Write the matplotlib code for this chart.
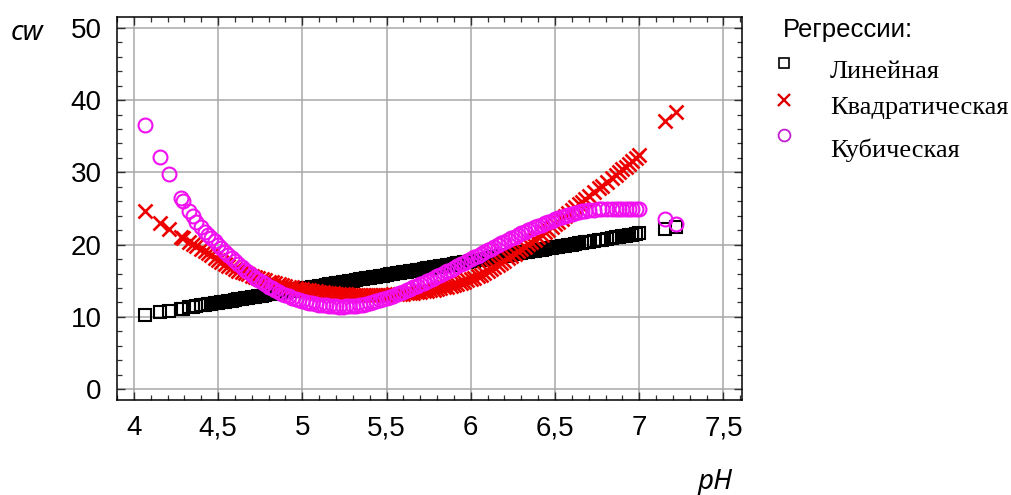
import matplotlib
matplotlib.use('Agg')
import matplotlib.pyplot as plt
from matplotlib.ticker import MultipleLocator, FixedLocator, FixedFormatter
import numpy as np

# pH values (head, dense middle, tail)
ph_head = [4.065, 4.155, 4.21, 4.28, 4.29, 4.33, 4.35, 4.37]
ph_mid = [round(4.40 + 0.02 * k, 2) for k in range(116)]
ph_tail = [6.73, 6.76, 6.78, 6.81, 6.84, 6.86, 6.88, 6.90, 6.92, 6.94, 6.96, 6.98, 7.00, 7.155, 7.22]

lin_head = [10.30, 10.65, 10.86, 11.12, 11.16, 11.32, 11.39, 11.47]
lin_mid = [
    11.58, 11.66, 11.73, 11.81, 11.89, 11.96, 12.04, 12.12, 12.19, 12.27,
    12.35, 12.42, 12.50, 12.58, 12.65, 12.73, 12.81, 12.88, 12.96, 13.04,
    13.11, 13.19, 13.27, 13.34, 13.42, 13.50, 13.57, 13.65, 13.73, 13.80,
    13.88, 13.96, 14.03, 14.11, 14.19, 14.26, 14.34, 14.42, 14.49, 14.57,
    14.65, 14.72, 14.80, 14.88, 14.95, 15.03, 15.11, 15.18, 15.26, 15.34,
    15.41, 15.49, 15.57, 15.64, 15.72, 15.80, 15.87, 15.95, 16.03, 16.10,
    16.18, 16.26, 16.33, 16.41, 16.49, 16.56, 16.64, 16.72, 16.79, 16.87,
    16.95, 17.02, 17.10, 17.18, 17.25, 17.33, 17.41, 17.48, 17.56, 17.64,
    17.71, 17.79, 17.87, 17.94, 18.02, 18.10, 18.17, 18.25, 18.33, 18.40,
    18.48, 18.56, 18.63, 18.71, 18.79, 18.86, 18.94, 19.02, 19.09, 19.17,
    19.25, 19.32, 19.40, 19.48, 19.55, 19.63, 19.71, 19.78, 19.86, 19.94,
    20.01, 20.09, 20.17, 20.24, 20.32, 20.40]
lin_tail = [20.51, 20.63, 20.71, 20.83, 20.94, 21.02, 21.10, 21.17, 21.25, 21.33, 21.40, 21.48, 21.56, 22.15, 22.40]

quad_head = [24.6, 23.0, 22.2, 21.1, 20.95, 20.4, 20.1, 19.8]
quad_mid = [
    19.40, 19.10, 18.80, 18.50, 18.15, 17.85, 17.58, 17.33, 17.09, 16.84,
    16.60, 16.41, 16.23, 16.05, 15.87, 15.69, 15.52, 15.37, 15.21, 15.06,
    14.90, 14.78, 14.66, 14.54, 14.42, 14.30, 14.20, 14.10, 14.00, 13.90,
    13.80, 13.73, 13.66, 13.59, 13.52, 13.45, 13.40, 13.35, 13.30, 13.25,
    13.20, 13.17, 13.14, 13.11, 13.08, 13.05, 13.04, 13.03, 13.02, 13.01,
    13.00, 13.01, 13.02, 13.03, 13.04, 13.05, 13.08, 13.11, 13.14, 13.17,
    13.20, 13.25, 13.30, 13.35, 13.40, 13.45, 13.53, 13.61, 13.69, 13.77,
    13.85, 13.96, 14.07, 14.18, 14.29, 14.40, 14.56, 14.72, 14.88, 15.04,
    15.20, 15.42, 15.64, 15.86, 16.08, 16.30, 16.60, 16.90, 17.20, 17.50,
    17.80, 18.12, 18.44, 18.76, 19.08, 19.40, 19.72, 20.04, 20.36, 20.68,
    21.00, 21.36, 21.72, 22.08, 22.44, 22.80, 23.20, 23.60, 24.00, 24.40,
    24.80, 25.18, 25.56, 25.94, 26.32, 26.70]
quad_tail = [27.25, 27.80, 28.15, 28.70, 29.25, 29.65, 30.00, 30.40, 30.80, 31.20, 31.60, 32.00, 32.40, 37.1, 38.4]

cub_head = [36.6, 32.1, 29.8, 26.5, 26.1, 24.6, 23.9, 23.2]
cub_mid = [
    22.40, 21.80, 21.37, 20.93, 20.50, 19.97, 19.47, 19.00, 18.53, 18.10,
    17.70, 17.30, 16.90, 16.52, 16.15, 15.78, 15.44, 15.12, 14.80, 14.49,
    14.20, 13.95, 13.70, 13.46, 13.23, 13.00, 12.83, 12.66, 12.51, 12.35,
    12.20, 12.09, 11.99, 11.89, 11.79, 11.70, 11.64, 11.59, 11.54, 11.49,
    11.45, 11.44, 11.44, 11.45, 11.47, 11.50, 11.56, 11.63, 11.71, 11.80,
    11.90, 12.03, 12.17, 12.31, 12.45, 12.60, 12.78, 12.96, 13.14, 13.32,
    13.50, 13.70, 13.90, 14.10, 14.30, 14.50, 14.72, 14.94, 15.16, 15.38,
    15.60, 15.84, 16.08, 16.32, 16.56, 16.80, 17.04, 17.28, 17.52, 17.76,
    18.00, 18.24, 18.48, 18.72, 18.96, 19.20, 19.44, 19.68, 19.92, 20.16,
    20.40, 20.64, 20.88, 21.12, 21.36, 21.60, 21.80, 22.00, 22.20, 22.40,
    22.60, 22.78, 22.96, 23.14, 23.32, 23.50, 23.66, 23.82, 23.98, 24.14,
    24.30, 24.40, 24.50, 24.60, 24.70, 24.80]
cub_tail = [24.86, 24.92, 24.95, 25.0, 25.0, 25.0, 25.0, 25.0, 24.98, 24.96, 24.94, 24.92, 24.90, 23.5, 22.9]

x_ticks = [4, 4.5, 5, 5.5, 6, 6.5, 7, 7.5]
x_tick_labels = ['4', '4,5', '5', '5,5', '6', '6,5', '7', '7,5']
y_ticks = [0, 10, 20, 30, 40, 50]
series_names = ['Линейная', 'Квадратическая', 'Кубическая']

ph = np.array(ph_head + ph_mid + ph_tail)
cw_lin = np.array(lin_head + lin_mid + lin_tail)
cw_quad = np.array(quad_head + quad_mid + quad_tail)
cw_cub = np.array(cub_head + cub_mid + cub_tail)

plt.rcParams['font.family'] = ['Liberation Sans', 'DejaVu Sans']

fig = plt.figure(figsize=(10.12, 4.95), dpi=100)
ax = fig.add_axes([0.1156, 0.1919, 0.6176, 0.7737])

red = '#ee0000'
pink = '#f010f0'
ax.plot(ph, cw_lin, ls='none', marker='s', ms=8, mfc='none', mec='black', mew=1.5, zorder=3)
ax.plot(ph, cw_quad, ls='none', marker='x', ms=10, mec=red, mew=1.9, zorder=4)
ax.plot(ph, cw_cub, ls='none', marker='o', ms=10, mfc='none', mec=pink, mew=1.5, zorder=5)

ax.set_xlim(3.9, 7.61)
ax.set_ylim(-1.5, 51.5)
ax.xaxis.set_major_locator(FixedLocator(x_ticks))
ax.xaxis.set_major_formatter(FixedFormatter(x_tick_labels))
ax.xaxis.set_minor_locator(MultipleLocator(0.1))
ax.yaxis.set_major_locator(FixedLocator(y_ticks))
ax.yaxis.set_minor_locator(MultipleLocator(2))
ax.grid(True, which='major', color='#a8a8a8', lw=1.1, zorder=0)
ax.set_axisbelow(True)
ax.tick_params(which='both', direction='in', top=True, right=True, color='#303030')
ax.tick_params(which='major', length=6, width=1.0, labelsize=20, pad=11)
ax.tick_params(which='minor', length=3.5, width=0.9)
for s in ax.spines.values():
    s.set_linewidth(1.1)

fig.text(27 / 1012, 1 - 33 / 495, 'cw', fontsize=20, style='italic', family='Noto Sans',
         ha='center', va='center')
fig.text(715 / 1012, 1 - 482 / 495, 'pH', fontsize=20, style='italic', family='Noto Sans',
         ha='center', va='center')

# legend drawn on an overlay in pixel coordinates
lax = fig.add_axes([0, 0, 1, 1])
lax.set_xlim(0, 1012)
lax.set_ylim(495, 0)
lax.axis('off')
lax.text(783, 30, 'Регрессии:', fontsize=18.5, ha='left', va='center')
leg_marks = [('s', 'black', 'none', 6.5, 1.2, 63), ('x', '#dd0000', None, 8.5, 1.7, 100),
             ('o', '#c020d0', 'none', 8.5, 1.3, 135)]
label_y = [72, 108, 150]
for (m, c, fc, ms, mw, my), name, ty in zip(leg_marks, series_names, label_y):
    if fc is None:
        lax.plot([784], [my], ls='none', marker=m, ms=ms, mec=c, mew=mw)
    else:
        lax.plot([784], [my], ls='none', marker=m, ms=ms, mfc=fc, mec=c, mew=mw)
    lax.text(830, ty, name, fontsize=19, family='Liberation Serif', ha='left', va='center')

fig.savefig('out.png', dpi=100)
